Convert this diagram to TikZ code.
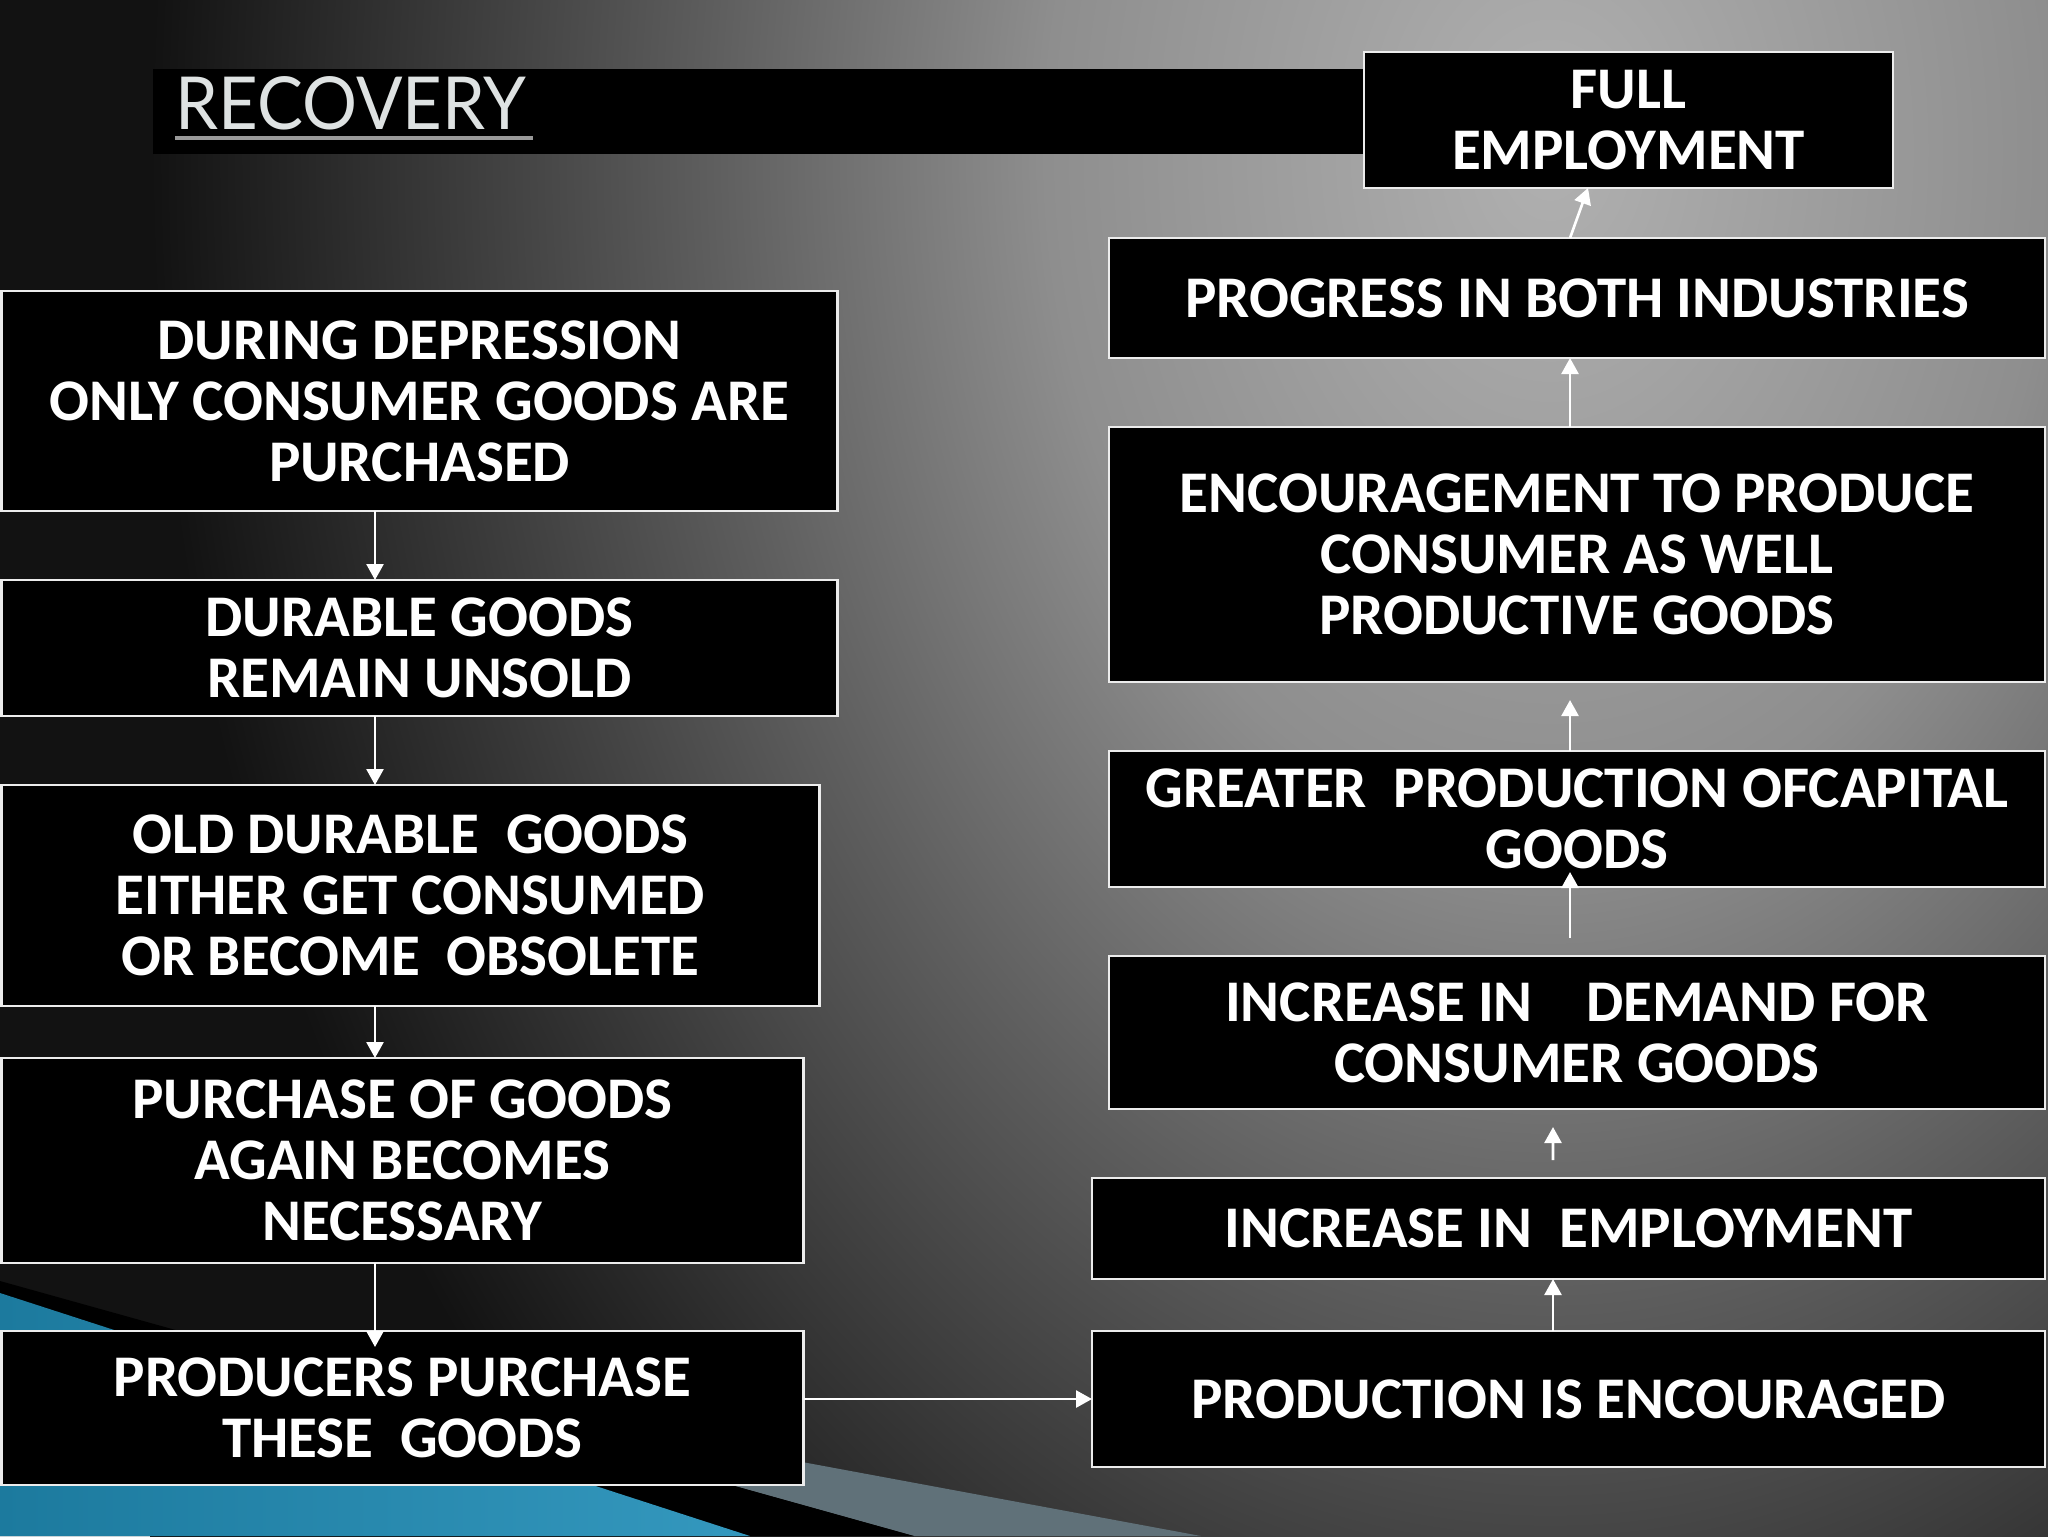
\documentclass[tikz,border=0pt]{standalone}
\usepackage{fontspec}
\setmainfont{Carlito}
\newfontfamily\titlefamily{Lato}[FakeStretch=0.94]
\usetikzlibrary{positioning,arrows.meta,calc}

\definecolor{bgA}{RGB}{176,176,176}
\definecolor{bgB}{RGB}{142,142,142}
\definecolor{bgC}{RGB}{94,94,94}
\definecolor{bgD}{RGB}{56,56,56}
\definecolor{bgE}{RGB}{18,18,18}
\definecolor{bluedark}{RGB}{28,122,158}
\definecolor{bluelight}{RGB}{86,186,220}
\definecolor{bluemid}{RGB}{52,152,190}
\definecolor{slate}{RGB}{96,113,121}
\definecolor{titlegray}{RGB}{222,226,226}
\definecolor{edgewhite}{RGB}{236,236,236}

\pgfdeclareradialshading{slidebg}{\pgfpointorigin}{color(0bp)=(bgA); color(9bp)=(bgB); color(15bp)=(bgC); color(20bp)=(bgD); color(25bp)=(bgE); color(50bp)=(bgE)}

\newcommand{\boxfont}{\fontsize{16.8pt}{17.4pt}\selectfont\bfseries}
\newcommand{\headfont}{\titlefamily\fontsize{20.8pt}{22pt}\selectfont}

\begin{document}
\begin{tikzpicture}[
    x=1mm, y=1mm,
    >={Triangle[width=1.7mm,length=1.6mm]},
    stepbox/.style = {rectangle, draw=edgewhite, line width=0.8pt, fill=black, text=white, align=center, font=\boxfont, inner sep=0pt, outer sep=0pt},
    flow/.style = {->, draw=white, line width=0.75pt},
    ]

        % Background
        \useasboundingbox (0,0) rectangle (204.8,-153.6);
        \fill[bgE] (0,0) rectangle (204.8,-153.6);
        \begin{scope}
            \clip (0,0) rectangle (204.8,-153.6);
            \shade[shading=slidebg] (15,-205) rectangle (295,175);
            \fill[slate] (34.4,-137.7) -- (120.1,-153.6) -- (91.4,-153.6) -- cycle;
            \fill[black] (0,-128.1) -- (91.4,-153.6) -- (0,-153.6) -- cycle;
            \shade[left color=bluedark, middle color=bluelight, right color=bluemid] (0,-129.3) -- (75.0,-153.6) -- (0,-153.6) -- cycle;
        \end{scope}

        % Title
        \node[fill=black, minimum width=121.2mm, minimum height=8.5mm, inner sep=0pt, anchor=north west] (bar) at (15.2,-6.8) {};
        \node[font=\headfont, text=titlegray, inner sep=0pt, anchor=base west] (title) at (17.5,-12.9) {RECOVERY};
        \draw[gray!80, line width=1.1pt] ([yshift=-0.9mm]title.base west) -- ([yshift=-0.9mm,xshift=0.6mm]title.base east);

        % Nodes: left column
        \node[stepbox, minimum width=83.6mm, minimum height=22mm, anchor=north west] (dep) at (0.15,-29.1) {DURING DEPRESSION\\ONLY CONSUMER GOODS ARE\\PURCHASED};
        \node[stepbox, minimum width=83.6mm, minimum height=13.6mm, below right=6.9mm and 0mm of dep.south west] (dur) {DURABLE GOODS\\REMAIN UNSOLD};
        \node[stepbox, minimum width=81.8mm, minimum height=22.1mm, below right=6.9mm and 0mm of dur.south west] (old) {OLD DURABLE\ \ GOODS\\EITHER GET CONSUMED\\OR BECOME\ \ OBSOLETE};
        \node[stepbox, minimum width=80.2mm, minimum height=20.5mm, below right=5.2mm and 0mm of old.south west] (pur) {PURCHASE OF GOODS\\AGAIN BECOMES\\NECESSARY};
        \node[stepbox, minimum width=80.2mm, minimum height=15.4mm, below right=6.8mm and 0mm of pur.south west] (prd) {PRODUCERS PURCHASE\\THESE\ \ GOODS};
        %
        % Nodes: right column
        \node[stepbox, minimum width=52.9mm, minimum height=13.6mm, anchor=north west] (full) at (136.4,-5.2) {FULL\\EMPLOYMENT};
        \node[stepbox, minimum width=93.6mm, minimum height=12mm, anchor=north west] (prog) at (110.9,-23.8) {PROGRESS IN BOTH INDUSTRIES};
        \node[stepbox, minimum width=93.6mm, minimum height=25.5mm, below right=6.9mm and 0mm of prog.south west] (enc) {ENCOURAGEMENT TO PRODUCE\\CONSUMER AS WELL\\PRODUCTIVE GOODS};
        \node[stepbox, minimum width=93.6mm, minimum height=13.6mm, below right=6.9mm and 0mm of enc.south west] (grt) {GREATER\ \ PRODUCTION OFCAPITAL\\GOODS};
        \node[stepbox, minimum width=93.6mm, minimum height=15.3mm, below right=6.9mm and 0mm of grt.south west] (dem) {INCREASE IN\ \ \ \ DEMAND FOR\\CONSUMER GOODS};
        \node[stepbox, minimum width=95.3mm, minimum height=10.1mm, below right=6.9mm and -1.7mm of dem.south west] (emp) {INCREASE IN\ \ EMPLOYMENT};
        \node[stepbox, minimum width=95.3mm, minimum height=13.6mm, below right=5.2mm and 0mm of emp.south west] (pro) {PRODUCTION IS ENCOURAGED};

        % Draw
        \draw[flow] ([xshift=37.35mm]dep.south west) -- ([xshift=37.35mm]dur.north west);
        \draw[flow] ([xshift=37.35mm]dur.south west) -- ([xshift=37.35mm]old.north west);
        \draw[flow] ([xshift=37.35mm]old.south west) -- ([xshift=37.35mm]pur.north west);
        \draw[flow, shorten >=-1.6mm] ([xshift=37.35mm]pur.south west) -- ([xshift=37.35mm]prd.north west);
        \draw[flow] (pro.west -| prd.east) -- (pro.west);
        \draw[flow] ([xshift=46.1mm]pro.north west) -- ([xshift=46.1mm]emp.south west);
        \draw[flow, shorten <=1.8mm, shorten >=1.8mm] ([xshift=46.1mm]emp.north west) -- ([xshift=44.4mm]dem.south west);
        \draw[flow, shorten <=1.8mm, shorten >=-1.5mm] ([xshift=46.1mm]dem.north west) -- ([xshift=46.1mm]grt.south west);
        \draw[flow, shorten >=1.8mm] ([xshift=46.1mm]grt.north west) -- ([xshift=46.1mm]enc.south west);
        \draw[flow] ([xshift=46.1mm]enc.north west) -- ([xshift=46.1mm]prog.south west);
        \draw[flow] ([xshift=46.1mm]prog.north west) -- ([xshift=22.4mm]full.south west);
\end{tikzpicture}
\end{document}
